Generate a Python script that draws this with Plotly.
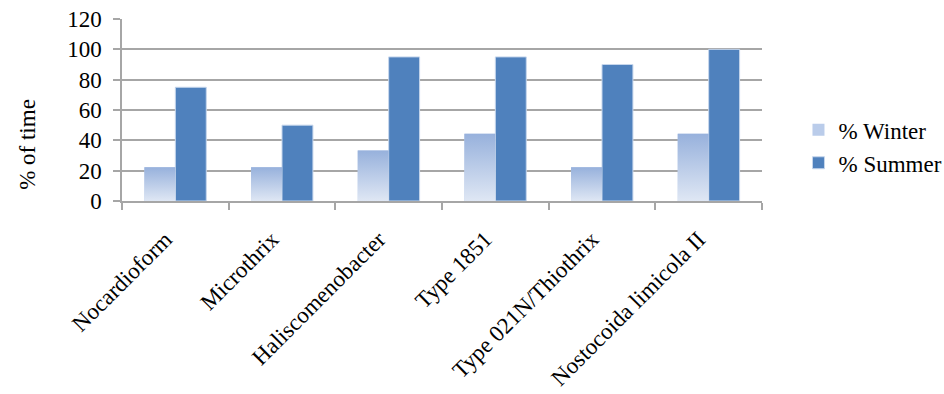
import plotly.graph_objects as go

categories = ["Nocardioform", "Microthrix", "Haliscomenobacter", "Type 1851",
              "Type 021N/Thiothrix", "Nostocoida limicola II"]
winter = [22.2, 22.2, 33.3, 44.4, 22.2, 44.4]
summer = [75, 50, 95, 95, 90, 100]
y_ticks = [0, 20, 40, 60, 80, 100, 120]

FONT = "Liberation Serif, Times New Roman, serif"
FS = 23
GRID = "#A6A6A6"
BAR_W = 0.29
pos = list(range(len(categories)))

fig = go.Figure()

# Winter bars (flat base colour, also used for the legend swatch)
fig.add_trace(go.Bar(
    x=pos, y=winter, width=BAR_W, offset=-BAR_W,
    marker=dict(color="#BACCEA", line=dict(width=0)),
    name="% Winter",
))

# Summer bars
fig.add_trace(go.Bar(
    x=pos, y=summer, width=BAR_W, offset=0,
    marker=dict(color="#4F81BD", line=dict(color="#C6D6EC", width=1)),
    name="% Summer",
))

# Vertical gradient laid over each winter bar (pale at the base)
for p, v in zip(pos, winter):
    fig.add_trace(go.Scatter(
        x=[p - BAR_W, p, p, p - BAR_W, p - BAR_W],
        y=[0, 0, v, v, 0],
        mode="lines", line=dict(width=0, color="#B9CDE5"),
        fill="toself",
        fillgradient=dict(type="vertical",
                          colorscale=[[0, "#DFE7F4"], [1, "#97B1DC"]]),
        showlegend=False, hoverinfo="skip",
    ))

fig.update_layout(
    width=944, height=394,
    margin=dict(l=122, r=182, t=19, b=193, autoexpand=False),
    paper_bgcolor="white", plot_bgcolor="white",
    font=dict(family=FONT, size=FS, color="black"),
    showlegend=True,
    legend=dict(x=1.057, y=0.30, xanchor="left", yanchor="middle",
                font=dict(family=FONT, size=FS), itemwidth=30,
                tracegroupgap=0, bgcolor="rgba(0,0,0,0)"),
    xaxis=dict(
        range=[-0.5, len(categories) - 0.5],
        tickvals=pos, ticktext=categories, tickangle=-45,
        ticks="", showgrid=False, zeroline=False,
        showline=True, linecolor=GRID, linewidth=1.5,
        tickfont=dict(family=FONT, size=FS),
        ticklabelstandoff=14, ticklabelshift=-10,
        minor=dict(tickvals=[p - 0.5 for p in pos] + [len(categories) - 0.5],
                   ticks="outside", ticklen=7, tickcolor=GRID, tickwidth=1.5,
                   showgrid=False),
    ),
    yaxis=dict(
        range=[0, 120], tickvals=y_ticks,
        showgrid=True, gridcolor=GRID, gridwidth=1.5,
        zeroline=False, showline=True, linecolor=GRID, linewidth=1.5,
        ticks="outside", ticklen=7, tickcolor=GRID, tickwidth=1.5,
        tickfont=dict(family=FONT, size=FS), ticklabelstandoff=7,
    ),
    annotations=[dict(
        text="% of time", xref="paper", yref="paper",
        x=-0.148, y=0.31, xanchor="center", yanchor="middle",
        textangle=-90, showarrow=False, font=dict(family=FONT, size=FS),
    )],
)

fig.write_html("out.html")
